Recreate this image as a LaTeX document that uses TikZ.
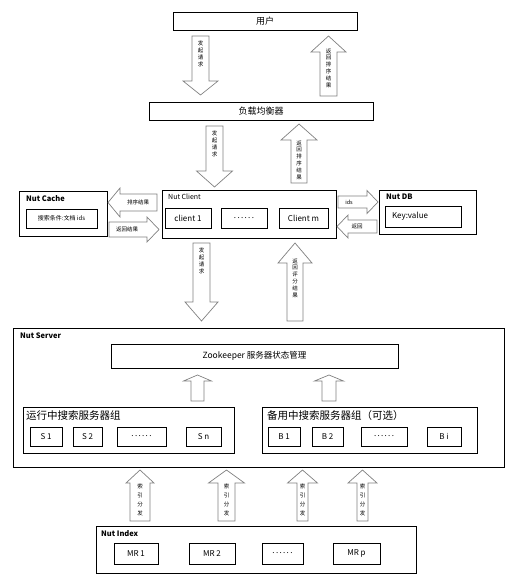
\documentclass[tikz,border=0pt]{standalone}
\usepackage{fontspec}
\setmainfont{Noto Sans CJK SC}
\usetikzlibrary{positioning,fit}

% block arrow, vertical: x, tail y, head base y, tip y, half shaft, half head, label y, name, label
\newcommand{\varrow}[9]{%
  \draw[blockarrow] ({#1-#5},#2) -- ({#1-#5},#3) -- ({#1-#6},#3) -- (#1,#4)
    -- ({#1+#6},#3) -- ({#1+#5},#3) -- ({#1+#5},#2) -- cycle;
  \node[arrowtext] (#8) at (#1,#7) {#9};}
% block arrow, horizontal: y, tail x, head base x, tip x, half shaft, half head, label x, name, label
\newcommand{\harrow}[9]{%
  \draw[blockarrow] (#2,{#1-#5}) -- (#3,{#1-#5}) -- (#3,{#1-#6}) -- (#4,#1)
    -- (#3,{#1+#6}) -- (#3,{#1+#5}) -- (#2,{#1+#5}) -- cycle;
  \node[arrowtext] (#8) at (#7,#1) {#9};}

\begin{document}
\begin{tikzpicture}[x=1pt,y=-1pt,
        box/.style={draw,line width=0.7pt,inner sep=0pt,font=\fontsize{8}{9}\selectfont},
        title/.style={anchor=north west,inner sep=0pt,font=\fontsize{7.5}{8}\selectfont\bfseries},
        group title/.style={anchor=north west,inner sep=0pt,font=\fontsize{10.5}{11}\selectfont},
        blockarrow/.style={draw=gray,fill=white,line width=0.7pt,line join=miter},
        arrowtext/.style={inner sep=0pt,align=center,font=\fontsize{5.5}{6.8}\selectfont}]
      \useasboundingbox (0,0) rectangle (527,588);

      % top
      \node[box, minimum width=184, minimum height=18, font=\fontsize{9}{10}\selectfont] (user) at (265,21) {用户};
      \node[box, minimum width=224, minimum height=18, font=\fontsize{9}{10}\selectfont] (lb) at (261,111) {负载均衡器};

      % client row
      \node[box, minimum width=88, minimum height=45] (cache) at (63,213.5) {};
      \node[title] (cachetitle) at (26,195) {Nut Cache};
      \node[box, minimum width=71, minimum height=19, font=\fontsize{6}{7}\selectfont] (cachekey) at (61.5,218.5) {搜索条件:文档 ids};

      \node[box, minimum width=174, minimum height=48] (client) at (249,214) {};
      \node[title, font=\fontsize{7}{8}\selectfont] (clienttitle) at (168,194) {Nut Client};
      \node[box, minimum width=46, minimum height=20] (c1) at (188,218) {client 1};
      \node[box, minimum width=46, minimum height=20] (cdots) at (244,218) {.\,.\,.\,.\,.\,.};
      \node[box, minimum width=49, minimum height=20] (cm) at (303.5,218) {Client m};

      \node[box, minimum width=97, minimum height=44] (db) at (427.5,212) {};
      \node[title] (dbtitle) at (386,194) {Nut DB};
      \node[box, minimum height=21, text width=62, inner xsep=7pt, align=left] (dbkey) at (423,216.5) {Key:value};

      % server
      \node[box, minimum width=491, minimum height=139] (server) at (258.5,397.5) {};
      \node[title] (servertitle) at (20,333) {Nut Server};
      \node[box, minimum width=287, minimum height=24, font=\fontsize{8.5}{9}\selectfont] (zk) at (254.5,356) {Zookeeper 服务器状态管理};

      \node[box, minimum width=211, minimum height=46] (run) at (128.5,430) {};
      \node[group title] (runtitle) at (26,410) {运行中搜索服务器组};
      \node[box, minimum width=32, minimum height=19] (s1) at (46,436.5) {S 1};
      \node[box, minimum width=29, minimum height=19] (s2) at (87.5,436.5) {S 2};
      \node[box, minimum width=49, minimum height=19] (sdots) at (141.5,436.5) {.\,.\,.\,.\,.\,.};
      \node[box, minimum width=35, minimum height=19] (sn) at (203.5,436.5) {S n};

      \node[box, minimum width=215, minimum height=46] (bak) at (369.5,430) {};
      \node[group title] (baktitle) at (267,410) {备用中搜索服务器组（可选）};
      \node[box, minimum width=32, minimum height=19] (b1) at (284,436.5) {B 1};
      \node[box, minimum width=31, minimum height=19] (b2) at (327.5,436.5) {B 2};
      \node[box, minimum width=46, minimum height=19] (bdots) at (384,436.5) {.\,.\,.\,.\,.\,.};
      \node[box, minimum width=34, minimum height=19] (bi) at (444,436.5) {B i};

      % index
      \node[box, minimum width=320, minimum height=47] (index) at (256,549.5) {};
      \node[title] (indextitle) at (101,530) {Nut Index};
      \node[box, minimum width=44, minimum height=21] (mr1) at (136,553.5) {MR 1};
      \node[box, minimum width=46, minimum height=21] (mr2) at (212,553.5) {MR 2};
      \node[box, minimum width=41, minimum height=21] (mrdots) at (282.5,553.5) {.\,.\,.\,.\,.\,.};
      \node[box, minimum width=47, minimum height=21] (mrp) at (356.5,553.5) {MR p};

      % arrows
      \varrow{200.5}{36}{81}{95}{8.5}{17.5}{54}{req1}{发\\起\\请\\求}
      \varrow{328.5}{96}{52}{36}{8.5}{17.5}{68}{ret1}{返\\回\\排\\序\\结\\果}
      \varrow{214.5}{126}{171}{187}{8.5}{18}{144}{req2}{发\\起\\请\\求}
      \varrow{299}{183}{140}{124}{8}{18}{160}{ret2}{返\\回\\排\\序\\结\\果}
      \varrow{201.5}{243}{302}{321}{8.5}{16.5}{261}{req3}{发\\起\\请\\求}
      \varrow{295}{321}{263}{243}{8}{17}{278}{ret3}{返\\回\\评\\分\\结\\果}
      \varrow{197.5}{401}{381}{375}{6.5}{14}{391}{upa}{}
      \varrow{329}{401}{381}{375}{7}{14.5}{391}{upb}{}
      \varrow{140}{521}{483}{470}{10}{14}{500}{idx1}{索\\[2pt]引\\[2pt]分\\[2pt]发}
      \varrow{226.5}{521}{483}{470}{8.5}{18}{500}{idx2}{索\\[2pt]引\\[2pt]分\\[2pt]发}
      \varrow{302.5}{521}{483}{470}{5.5}{15}{500}{idx3}{索\\[2pt]引\\[2pt]分\\[2pt]发}
      \varrow{362.5}{521}{483}{470}{5.5}{14.5}{500}{idx4}{索\\[2pt]引\\[2pt]分\\[2pt]发}

      \harrow{202.5}{157}{120}{108}{8.5}{14.5}{138}{sorted}{排序结果}
      \harrow{229.5}{109}{147}{159}{7.5}{12.5}{127}{back}{返回结果}
      \harrow{202}{338}{367}{378}{6}{11.5}{349}{ids}{ids}
      \harrow{226.5}{377}{348}{337}{6.5}{11.5}{357}{dbret}{返回}
    \end{tikzpicture}
\end{document}
